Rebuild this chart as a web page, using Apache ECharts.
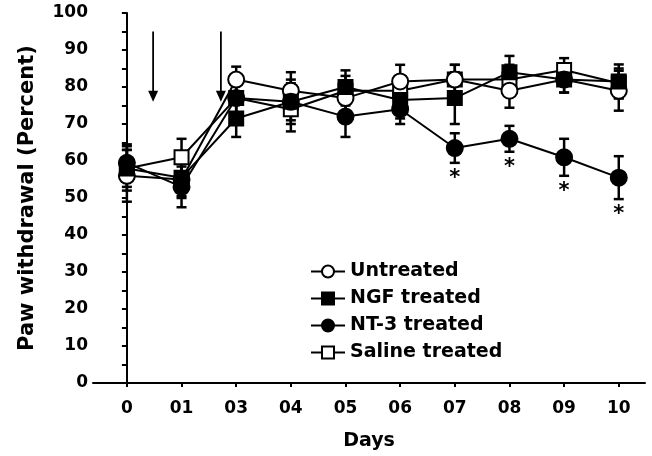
<!DOCTYPE html>
<html>
<head>
<meta charset="utf-8">
<script src="https://cdn.jsdelivr.net/npm/echarts@6/dist/echarts.min.js"></script>
<style>html,body{margin:0;padding:0;background:#fff;}#c{width:652px;height:456px;}</style>
</head>
<body>
<div id="c"></div>
<script>
var days = ['0', '01', '03', '04', '05', '06', '07', '08', '09', '10'];
var untreated    = [56, 55, 82, 79, 77, 81.5, 82, 79, 82, 79];
var untreatedErr = [7, 5, 3.5, 5, 4, 4.5, 4, 4.6, 3.5, 5.4];
var ngf          = [58, 55.5, 71.5, 76, 80, 76.5, 77, 84, 82, 81.5];
var ngfErr       = [6, 5, 5, 5, 4.5, 5, 7, 4.4, 3.5, 4.6];
var nt3          = [59.5, 53, 77, 76, 72, 74, 63.5, 66, 61, 55.5];
var nt3Err       = [5, 5.5, 5, 6, 5.5, 4, 4, 3.5, 5, 5.8];
var saline       = [58, 61, 77, 74, 79, 79, 82, 82, 84.6, 81];
var salineErr    = [5, 5, 5, 6, 4, 4, 4, 4, 3.2, 4];
var significantDays = [6, 7, 8, 9];           // indices of days with '*'
var arrowDays = [0.48, 1.72];                 // arrow positions (between days)
var arrowTop = 95, arrowTip = 76;
var yTicks = [0, 10, 20, 30, 40, 50, 60, 70, 80, 90, 100];

var FONT = 'DejaVu Sans';

function pairs(vals) { return vals.map(function (v, i) { return [i, v]; }); }
function errData(vals, errs) { return vals.map(function (v, i) { return [i, v - errs[i], v + errs[i]]; }); }

function errSeries(vals, errs) {
  return {
    type: 'custom',
    z: 1,
    silent: true,
    data: errData(vals, errs),
    renderItem: function (params, api) {
      var lo = api.coord([api.value(0), api.value(1)]);
      var hi = api.coord([api.value(0), api.value(2)]);
      var w = 5;
      var st = { stroke: '#000', lineWidth: 2.5 };
      return {
        type: 'group',
        children: [
          { type: 'line', shape: { x1: lo[0], y1: lo[1], x2: hi[0], y2: hi[1] }, style: st },
          { type: 'line', shape: { x1: lo[0] - w, y1: lo[1], x2: lo[0] + w, y2: lo[1] }, style: st },
          { type: 'line', shape: { x1: hi[0] - w, y1: hi[1], x2: hi[0] + w, y2: hi[1] }, style: st }
        ]
      };
    }
  };
}

function lineSeries(name, vals, symbol, size, fill, z) {
  return {
    name: name,
    type: 'line',
    data: pairs(vals),
    symbol: symbol,
    symbolSize: size,
    showAllSymbol: true,
    z: z,
    lineStyle: { color: '#000', width: 2 },
    itemStyle: { color: fill, borderColor: '#000', borderWidth: 2 },
    emphasis: { disabled: true }
  };
}

var chart = echarts.init(document.getElementById('c'));
chart.setOption({
  animation: false,
  backgroundColor: '#fff',
  grid: { left: 93, right: 7, top: 13, bottom: 73 },
  xAxis: {
    type: 'value',
    min: -0.62,
    max: 9.48,
    name: 'Days',
    nameLocation: 'middle',
    nameGap: 49,
    nameTextStyle: { fontFamily: FONT, fontWeight: 'bold', fontSize: 19, color: '#000' },
    splitLine: { show: false },
    axisLine: { lineStyle: { color: '#000', width: 2 } },
    axisTick: { show: true, length: 4, lineStyle: { color: '#000', width: 2 }, customValues: [0, 1, 2, 3, 4, 5, 6, 7, 8, 9] },
    axisLabel: {
      customValues: [0, 1, 2, 3, 4, 5, 6, 7, 8, 9],
      formatter: function (v) { return days[Math.round(v)]; },
      fontFamily: FONT, fontWeight: 'bold', fontSize: 17, color: '#000', margin: 17
    }
  },
  yAxis: {
    type: 'value',
    min: 0, max: 100, interval: 10,
    offset: -5,
    name: 'Paw withdrawal (Percent)',
    nameLocation: 'middle',
    nameGap: 60,
    nameTextStyle: { fontFamily: FONT, fontWeight: 'bold', fontSize: 21, color: '#000' },
    splitLine: { show: false },
    axisLine: { show: true, lineStyle: { color: '#000', width: 2 } },
    axisTick: { show: true, length: 5, lineStyle: { color: '#000', width: 2 } },
    minorTick: { show: true, splitNumber: 2, length: 5, lineStyle: { color: '#000', width: 2 } },
    axisLabel: {
      fontFamily: FONT, fontWeight: 'bold', fontSize: 17, color: '#000', margin: 10,
      formatter: function (v) { return yTicks.indexOf(v) >= 0 ? String(v) : ''; }
    }
  },
  legend: {
    orient: 'vertical',
    left: 305,
    top: 257,
    itemWidth: 34,
    itemHeight: 15,
    itemGap: 8,
    textStyle: { fontFamily: FONT, fontWeight: 'bold', fontSize: 19, color: '#000' },
    data: ['Untreated', 'NGF treated', 'NT-3 treated', 'Saline treated']
  },
  series: [
    errSeries(untreated, untreatedErr),
    errSeries(ngf, ngfErr),
    errSeries(nt3, nt3Err),
    errSeries(saline, salineErr),
    lineSeries('Untreated', untreated, 'circle', 16, '#fff', 4),
    lineSeries('NGF treated', ngf, 'rect', 14, '#000', 6),
    lineSeries('NT-3 treated', nt3, 'circle', 16, '#000', 5),
    lineSeries('Saline treated', saline, 'rect', 14, '#fff', 3),
    {
      type: 'custom',
      silent: true,
      z: 7,
      data: significantDays.map(function (i) { return [i, nt3[i] - nt3Err[i]]; }),
      renderItem: function (params, api) {
        var p = api.coord([api.value(0), api.value(1)]);
        return {
          type: 'text',
          x: p[0], y: p[1] + 5,
          style: { text: '*', fill: '#000', font: 'bold 21px "DejaVu Sans"', align: 'center', verticalAlign: 'top' }
        };
      }
    },
    {
      type: 'custom',
      silent: true,
      data: arrowDays.map(function (x) { return [x, arrowTop, arrowTip]; }),
      renderItem: function (params, api) {
        var t = api.coord([api.value(0), api.value(1)]);
        var b = api.coord([api.value(0), api.value(2)]);
        var hw = 5, hh = 11;
        return {
          type: 'group',
          children: [
            { type: 'line', shape: { x1: t[0], y1: t[1], x2: b[0], y2: b[1] - hh + 1 }, style: { stroke: '#000', lineWidth: 1.8 } },
            { type: 'polygon', shape: { points: [[b[0] - hw, b[1] - hh], [b[0] + hw, b[1] - hh], [b[0], b[1]]] }, style: { fill: '#000' } }
          ]
        };
      }
    }
  ]
});
</script>
</body>
</html>
